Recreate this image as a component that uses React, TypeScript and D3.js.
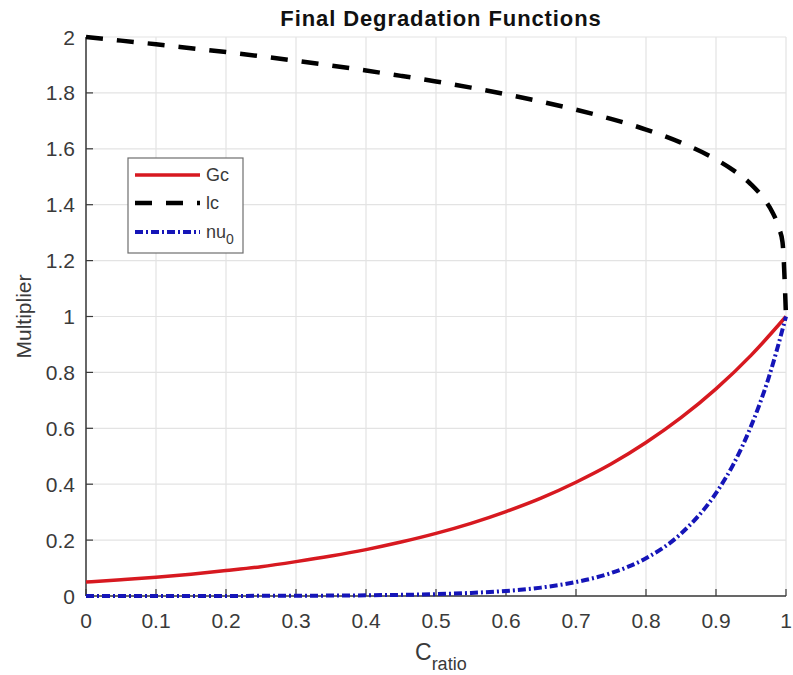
import React from "react";
import * as d3 from "d3";

const gcX = [0, 0.05, 0.1, 0.15, 0.2, 0.25, 0.3, 0.35, 0.4, 0.45, 0.5, 0.55, 0.6, 0.65, 0.7, 0.75, 0.8, 0.85, 0.9, 0.95, 1];
const gcY = [0.05, 0.058, 0.067, 0.078, 0.091, 0.105, 0.123, 0.143, 0.166, 0.193, 0.224, 0.26, 0.302, 0.35, 0.407, 0.472, 0.549, 0.638, 0.741, 0.861, 1];

const lcX = [0, 0.05, 0.1, 0.15, 0.2, 0.25, 0.3, 0.35, 0.4, 0.45, 0.5, 0.55, 0.6, 0.65, 0.7, 0.75, 0.8, 0.85, 0.9, 0.925, 0.95, 0.97, 0.98, 0.99, 0.995, 1];
const lcY = [2, 1.987, 1.974, 1.96, 1.946, 1.931, 1.915, 1.898, 1.88, 1.861, 1.841, 1.819, 1.795, 1.769, 1.74, 1.707, 1.669, 1.622, 1.562, 1.523, 1.473, 1.416, 1.376, 1.316, 1.266, 1];

const nuX = [0, 0.1, 0.2, 0.3, 0.4, 0.5, 0.55, 0.6, 0.65, 0.7, 0.75, 0.8, 0.85, 0.9, 0.925, 0.95, 0.975, 1];
const nuY = [0, 0.0001, 0.0003, 0.0009, 0.0025, 0.0067, 0.011, 0.018, 0.03, 0.05, 0.082, 0.135, 0.223, 0.368, 0.472, 0.607, 0.779, 1];

const xTicks = [0, 0.1, 0.2, 0.3, 0.4, 0.5, 0.6, 0.7, 0.8, 0.9, 1];
const yTicks = [0, 0.2, 0.4, 0.6, 0.8, 1, 1.2, 1.4, 1.6, 1.8, 2];

const W = 793;
const H = 675;
const L = 86, R = 786, T = 37, B = 596;
const AX = "#3a3a3a";
const FONT = "'Liberation Sans', Arial, sans-serif";

export default function App() {
  const x = d3.scaleLinear().domain([0, 1]).range([L, R]);
  const y = d3.scaleLinear().domain([0, 2]).range([B, T]);
  const line = d3
    .line<[number, number]>()
    .x((d) => x(d[0]))
    .y((d) => y(d[1]))
    .curve(d3.curveMonotoneX);
  const zip = (a: number[], b: number[]) => a.map((v, i) => [v, b[i]] as [number, number]);

  const fmt = (v: number) => String(v);

  const legendItems = [
    { label: "Gc", sub: "", color: "#d71920", dash: "none", w: 3.5 },
    { label: "lc", sub: "", color: "#000000", dash: "17,14", w: 4.5 },
    { label: "nu", sub: "0", color: "#1515b8", dash: "8,3,2,3", w: 4 },
  ];
  const legendYs = [175, 203, 232];

  return (
    <div style={{ position: "absolute", left: 0, top: 0, width: W, height: H, background: "#fff" }}>
      <svg width={W} height={H} style={{ display: "block" }} fontFamily={FONT}>
        <rect x={0} y={0} width={W} height={H} fill="#fff" />
        {/* grid */}
        {xTicks.map((t) => (
          <line key={"gx" + t} x1={x(t)} x2={x(t)} y1={T} y2={B} stroke="#e3e3e3" strokeWidth={1.2} />
        ))}
        {yTicks.map((t) => (
          <line key={"gy" + t} x1={L} x2={R} y1={y(t)} y2={y(t)} stroke="#e3e3e3" strokeWidth={1.2} />
        ))}
        {/* axes */}
        <line x1={L} x2={L} y1={T} y2={B} stroke={AX} strokeWidth={1.5} />
        <line x1={L} x2={R} y1={B} y2={B} stroke={AX} strokeWidth={1.5} />
        {xTicks.map((t) => (
          <g key={"tx" + t}>
            <line x1={x(t)} x2={x(t)} y1={B} y2={B - 7} stroke={AX} strokeWidth={1.2} />
            <text x={x(t)} y={628} textAnchor="middle" fontSize={21} fill={AX}>
              {fmt(t)}
            </text>
          </g>
        ))}
        {yTicks.map((t) => (
          <g key={"ty" + t}>
            <line x1={L} x2={L + 7} y1={y(t)} y2={y(t)} stroke={AX} strokeWidth={1.2} />
            <text x={75} y={y(t) + 7.5} textAnchor="end" fontSize={21} fill={AX}>
              {fmt(t)}
            </text>
          </g>
        ))}
        {/* curves */}
        <path d={line(zip(gcX, gcY)) || ""} fill="none" stroke="#d71920" strokeWidth={3.5} />
        <path d={line(zip(nuX, nuY)) || ""} fill="none" stroke="#1515b8" strokeWidth={4} strokeDasharray="8,3,2,3" />
        <path d={line(zip(lcX, lcY)) || ""} fill="none" stroke="#000" strokeWidth={4.5} strokeDasharray="17,14" />
        {/* title */}
        <text x={441} y={26} textAnchor="middle" fontSize={22} fontWeight="bold" fill="#111" letterSpacing={0.9}>
          Final Degradation Functions
        </text>
        {/* x label */}
        <text x={415} y={660} fontSize={23} fill={AX}>
          C
          <tspan fontSize={18} dy={10}>ratio</tspan>
        </text>
        {/* y label */}
        <text transform={`translate(31, ${(T + B) / 2}) rotate(-90)`} textAnchor="middle" fontSize={21} fill={AX}>
          Multiplier
        </text>
        {/* legend */}
        <rect x={128} y={158} width={115} height={95} fill="#fff" stroke="#6e6e6e" strokeWidth={1.2} />
        {legendItems.map((it, i) => (
          <g key={it.label}>
            <line
              x1={135}
              x2={200}
              y1={legendYs[i]}
              y2={legendYs[i]}
              stroke={it.color}
              strokeWidth={it.w}
              strokeDasharray={it.dash}
            />
            <text x={206} y={legendYs[i] + 6} fontSize={18} fill={AX}>
              {it.label}
              {it.sub ? (
                <tspan fontSize={14} dy={6}>
                  {it.sub}
                </tspan>
              ) : null}
            </text>
          </g>
        ))}
      </svg>
    </div>
  );
}
